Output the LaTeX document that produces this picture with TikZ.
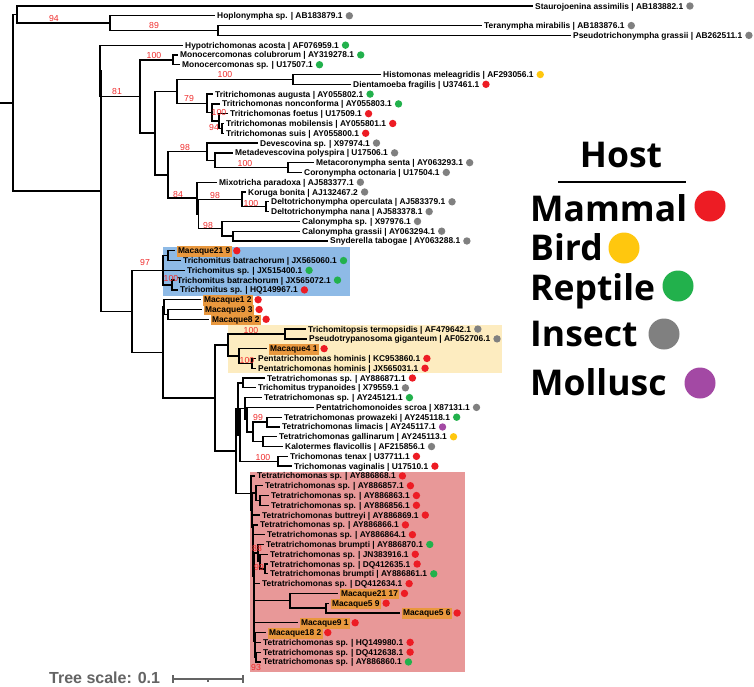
\documentclass[tikz,border=0pt]{standalone}
\usepackage{fontspec}
\setmainfont{Liberation Sans}
\newfontfamily\legfont{Open Sans}
\usetikzlibrary{calc}
\definecolor{cmam}{RGB}{237,28,36}
\definecolor{cbird}{RGB}{255,199,14}
\definecolor{crep}{RGB}{34,177,76}
\definecolor{cins}{RGB}{128,128,128}
\definecolor{cmol}{RGB}{163,73,164}
\definecolor{cbs}{RGB}{240,45,45}
\definecolor{corange}{RGB}{233,152,62}
\definecolor{cblue}{RGB}{142,186,230}
\definecolor{cyel}{RGB}{253,236,192}
\definecolor{cpink}{RGB}{232,152,152}
\definecolor{cscale}{RGB}{100,100,100}
\tikzset{
  br/.style={draw=black, line width=1.3pt},
  lab/.style={anchor=base west, inner xsep=2pt, inner ysep=0pt, yshift=-3pt,
    font=\bfseries\fontsize{8.4}{9}\selectfont},
  mlab/.style={lab, fill=corange, inner xsep=1.5pt, outer xsep=1.5pt, inner ysep=1.6pt,
    text height=6.1pt, text depth=1.4pt},
  hdot/.style={circle, inner sep=0pt, minimum size=7.4pt},
  ldot/.style={circle, inner sep=0pt, minimum size=31pt},
  bs/.style={text=cbs, font=\fontsize{8.7}{9}\selectfont, inner sep=0pt},
  leg/.style={anchor=base west, inner sep=0pt, font=\legfont\bfseries\fontsize{35.5}{36}\selectfont},
  scl/.style={draw=cscale, line width=1.3pt}
}
\newcommand\leafN[5]{\coordinate (#1) at (#2,#3);
  \node[lab] (#1l) at (#1) {#4};
  \node[hdot, fill=#5] (#1d) at ($(#1l.east |- #1)+(4.5pt,0)$) {};}
\newcommand\leafM[5]{\coordinate (#1) at (#2,#3);
  \node[mlab] (#1l) at (#1) {#4};
  \node[hdot, fill=#5] (#1d) at ($(#1l.east |- #1)+(3.5pt,0)$) {};}
\newcommand\kids[2]{\foreach \c in {#2}{\draw[br] (#1) |- (\c);}}
\begin{document}
\begin{tikzpicture}[x=1pt,y=-1pt]
\useasboundingbox (0,0) rectangle (754,686);
\fill[white] (0,0) rectangle (754,686);
% highlight boxes
\fill[cblue] (163,247) rectangle (350,296);
\fill[cyel] (228,325) rectangle (502,373);
\fill[cpink] (250,472) rectangle (465,672);
% leaves
\leafN{l1}{533}{6.00}{Staurojoenina assimilis | AB183882.1}{cins}
\leafN{l2}{215}{15.79}{Hoplonympha sp. | AB183879.1}{cins}
\leafN{l3}{482}{25.58}{Teranympha mirabilis | AB183876.1}{cins}
\leafN{l4}{571}{35.37}{Pseudotrichonympha grassii | AB262511.1}{cins}
\leafN{l5}{183}{45.16}{Hypotrichomonas acosta | AF076959.1}{crep}
\leafN{l6}{178}{54.95}{Monocercomonas colubrorum | AY319278.1}{crep}
\leafN{l7}{180}{64.74}{Monocercomonas sp. | U17507.1}{crep}
\leafN{l8}{381}{74.53}{Histomonas meleagridis | AF293056.1}{cbird}
\leafN{l9}{351}{84.32}{Dientamoeba fragilis | U37461.1}{cmam}
\leafN{l10}{213}{94.11}{Tritrichomonas augusta | AY055802.1}{crep}
\leafN{l11}{220}{103.90}{Tritrichomonas nonconforma | AY055803.1}{crep}
\leafN{l12}{228}{113.69}{Tritrichomonas foetus | U17509.1}{cmam}
\leafN{l13}{224}{123.48}{Tritrichomonas mobilensis | AY055801.1}{cmam}
\leafN{l14}{224}{133.27}{Tritrichomonas suis | AY055800.1}{cmam}
\leafN{l15}{258}{143.06}{Devescovina sp. | X97974.1}{cins}
\leafN{l16}{233}{152.85}{Metadevescovina polyspira | U17506.1}{cins}
\leafN{l17}{314}{162.64}{Metacoronympha senta | AY063293.1}{cins}
\leafN{l18}{302}{172.43}{Coronympha octonaria | U17504.1}{cins}
\leafN{l19}{217}{182.22}{Mixotricha paradoxa | AJ583377.1}{cins}
\leafN{l20}{246}{192.01}{Koruga bonita | AJ132467.2}{cins}
\leafN{l21}{269}{201.80}{Deltotrichonympha operculata | AJ583379.1}{cins}
\leafN{l22}{269}{211.59}{Deltotrichonympha nana | AJ583378.1}{cins}
\leafN{l23}{300}{221.38}{Calonympha sp. | X97976.1}{cins}
\leafN{l24}{300}{231.17}{Calonympha grassii | AY063294.1}{cins}
\leafN{l25}{328}{240.96}{Snyderella tabogae | AY063288.1}{cins}
\leafM{l26}{175}{250.75}{Macaque21 9}{cmam}
\leafN{l27}{181}{260.54}{Trichomitus batrachorum | JX565060.1}{crep}
\leafN{l28}{185}{270.33}{Trichomitus sp. | JX515400.1}{crep}
\leafN{l29}{175}{280.12}{Trichomitus batrachorum | JX565072.1}{crep}
\leafN{l30}{178}{289.91}{Trichomitus sp. | HQ149967.1}{cmam}
\leafM{l31}{201}{299.70}{Macaque1 2}{cmam}
\leafM{l32}{202}{309.49}{Macaque9 3}{cmam}
\leafM{l33}{209}{319.28}{Macaque8 2}{cmam}
\leafN{l34}{306}{329.07}{Trichomitopsis termopsidis | AF479642.1}{cins}
\leafN{l35}{307}{338.86}{Pseudotrypanosoma giganteum | AF052706.1}{cins}
\leafM{l36}{267}{348.65}{Macaque4 1}{cmam}
\leafN{l37}{256}{358.44}{Pentatrichomonas hominis | KC953860.1}{cmam}
\leafN{l38}{256}{368.23}{Pentatrichomonas hominis | JX565031.1}{cmam}
\leafN{l39}{265}{378.02}{Tetratrichomonas sp. | AY886871.1}{cmam}
\leafN{l40}{256}{387.81}{Trichomitus trypanoides | X79559.1}{cins}
\leafN{l41}{262}{397.60}{Tetratrichomonas sp. | AY245121.1}{crep}
\leafN{l42}{314}{407.39}{Pentatrichomonoides scroa | X87131.1}{cins}
\leafN{l43}{282}{417.18}{Tetratrichomonas prowazeki | AY245118.1}{crep}
\leafN{l44}{280}{426.97}{Tetratrichomonas limacis | AY245117.1}{cmol}
\leafN{l45}{277}{436.76}{Tetratrichomonas gallinarum | AY245113.1}{cbird}
\leafN{l46}{283}{446.55}{Kalotermes flavicollis | AF215856.1}{cins}
\leafN{l47}{288}{456.34}{Trichomonas tenax | U37711.1}{cmam}
\leafN{l48}{292}{466.13}{Trichomonas vaginalis | U17510.1}{cmam}
\leafN{l49}{255}{475.92}{Tetratrichomonas sp. | AY886868.1}{cmam}
\leafN{l50}{263}{485.71}{Tetratrichomonas sp. | AY886857.1}{cmam}
\leafN{l51}{269}{495.50}{Tetratrichomonas sp. | AY886863.1}{cmam}
\leafN{l52}{269}{505.29}{Tetratrichomonas sp. | AY886856.1}{cmam}
\leafN{l53}{260}{515.08}{Tetratrichomonas buttreyi | AY886869.1}{cmam}
\leafN{l54}{258}{524.87}{Tetratrichomonas sp. | AY886866.1}{cmam}
\leafN{l55}{265}{534.66}{Tetratrichomonas sp. | AY886864.1}{cmam}
\leafN{l56}{264}{544.45}{Tetratrichomonas brumpti | AY886870.1}{crep}
\leafN{l57}{268}{554.24}{Tetratrichomonas sp. | JN383916.1}{cmam}
\leafN{l58}{268}{564.03}{Tetratrichomonas sp. | DQ412635.1}{cmam}
\leafN{l59}{268}{573.82}{Tetratrichomonas brumpti | AY886861.1}{crep}
\leafN{l60}{260}{583.61}{Tetratrichomonas sp. | DQ412634.1}{cmam}
\leafM{l61}{338}{593.40}{Macaque21 17}{cmam}
\leafM{l62}{329}{603.19}{Macaque5 9}{cmam}
\leafM{l63}{400}{612.98}{Macaque5 6}{cmam}
\leafM{l64}{298}{622.77}{Macaque9 1}{cmam}
\leafM{l65}{266}{632.56}{Macaque18 2}{cmam}
\leafN{l66}{261}{642.35}{Tetratrichomonas sp. | HQ149980.1}{cmam}
\leafN{l67}{261}{652.14}{Tetratrichomonas sp. | DQ412638.1}{cmam}
\leafN{l68}{261}{661.93}{Tetratrichomonas sp. | AY886860.1}{crep}
% internal nodes
\coordinate (TP) at (218,30.48);
\coordinate (H94) at (110,23.13);
\coordinate (TOP) at (17,14.57);
\coordinate (MONO) at (173,59.85);
\coordinate (HD) at (293,79.43);
\coordinate (G) at (222,128.38);
\coordinate (F) at (219,121.03);
\coordinate (E) at (212,112.47);
\coordinate (N79) at (207,103.29);
\coordinate (X) at (177,91.36);
\coordinate (MC) at (288,167.54);
\coordinate (M) at (215,160.19);
\coordinate (D98) at (207,151.63);
\coordinate (DD) at (266,206.70);
\coordinate (KD) at (242,199.35);
\coordinate (B) at (233,236.07);
\coordinate (A) at (222,228.72);
\coordinate (K2) at (198.5,214.04);
\coordinate (K1) at (197,198.13);
\coordinate (Z) at (168,174.88);
\coordinate (Y) at (155,133.12);
\coordinate (N81) at (140,96.49);
\coordinate (N1) at (100,70.82);
\coordinate (MT) at (168,255.65);
\coordinate (BT) at (172,285.02);
\coordinate (T) at (163,270.33);
\coordinate (M93) at (168,314.39);
\coordinate (Q1) at (164,307.04);
\coordinate (TPp) at (285,333.97);
\coordinate (PP) at (252,363.34);
\coordinate (MP) at (239,355.99);
\coordinate (YC) at (228,344.98);
\coordinate (N3940) at (243,382.92);
\coordinate (PL) at (267,422.08);
\coordinate (GK) at (263,441.66);
\coordinate (A3) at (253,431.87);
\coordinate (A2) at (247,419.63);
\coordinate (A1) at (245,408.61);
\coordinate (TV) at (278,461.24);
\coordinate (B2) at (240,434.93);
\coordinate (C) at (238,408.92);
\coordinate (N5152) at (260,500.40);
\coordinate (N50) at (256,493.05);
\coordinate (N5859) at (265,568.93);
\coordinate (N57) at (260,561.58);
\coordinate (N56) at (258,553.02);
\coordinate (M559) at (326,608.08);
\coordinate (M21) at (290,600.74);
\coordinate (La) at (256,657.04);
\coordinate (Lb) at (255,649.69);
\coordinate (L1) at (255,641.13);
\coordinate (L2) at (254,631.95);
\coordinate (L3) at (254,616.34);
\coordinate (L4) at (254,599.98);
\coordinate (L5) at (254,576.50);
\coordinate (L6) at (253,555.58);
\coordinate (L7) at (253,540.22);
\coordinate (L8) at (252.5,527.65);
\coordinate (L9) at (252,510.35);
\coordinate (R0) at (251,493.14);
\coordinate (D) at (236,451.03);
\coordinate (S) at (215,398.0);
\coordinate (Q) at (163,352.52);
\coordinate (P) at (132,311.43);
\coordinate (N0) at (101,191.12);
\coordinate (root) at (13,102.85);
\coordinate (rootS) at (0,102.85);
% branches
\kids{TP}{l3,l4}
\kids{H94}{l2,TP}
\kids{TOP}{l1,H94}
\kids{MONO}{l6,l7}
\kids{HD}{l8,l9}
\kids{G}{l13,l14}
\kids{F}{l12,G}
\kids{E}{l11,F}
\kids{N79}{l10,E}
\kids{X}{HD,N79}
\kids{MC}{l17,l18}
\kids{M}{l16,MC}
\kids{D98}{l15,M}
\kids{DD}{l21,l22}
\kids{KD}{l20,DD}
\kids{B}{l24,l25}
\kids{A}{l23,B}
\kids{K2}{KD,A}
\kids{K1}{l19,K2}
\kids{Z}{D98,K1}
\kids{Y}{X,Z}
\kids{N81}{MONO,Y}
\kids{N1}{l5,N81}
\kids{MT}{l26,l27}
\kids{BT}{l29,l30}
\kids{T}{MT,l28,BT}
\kids{M93}{l32,l33}
\kids{Q1}{l31,M93}
\kids{TPp}{l34,l35}
\kids{PP}{l37,l38}
\kids{MP}{l36,PP}
\kids{YC}{TPp,MP}
\kids{N3940}{l39,l40}
\kids{PL}{l43,l44}
\kids{GK}{l45,l46}
\kids{A3}{PL,GK}
\kids{A2}{l42,A3}
\kids{A1}{l41,A2}
\kids{TV}{l47,l48}
\kids{B2}{A1,TV}
\kids{C}{N3940,B2}
\kids{N5152}{l51,l52}
\kids{N50}{l50,N5152}
\kids{N5859}{l58,l59}
\kids{N57}{l57,N5859}
\kids{N56}{l56,N57}
\kids{M559}{l62,l63}
\kids{M21}{l61,M559}
\kids{La}{l67,l68}
\kids{Lb}{l66,La}
\kids{L1}{l65,Lb}
\kids{L2}{l64,L1}
\kids{L3}{M21,L2}
\kids{L4}{l60,L3}
\kids{L5}{N56,L4}
\kids{L6}{l55,L5}
\kids{L7}{l54,L6}
\kids{L8}{l53,L7}
\kids{L9}{N50,L8}
\kids{R0}{l49,L9}
\kids{D}{C,R0}
\kids{S}{YC,D}
\kids{Q}{Q1,S}
\kids{P}{T,Q}
\kids{N0}{N1,P}
\kids{root}{TOP,N0}
\draw[br] (root) -- (rootS);
% bootstrap values
\node[bs] (b1) at (54,19) {94};
\node[bs] (b2) at (154,26) {89};
\node[bs] (b3) at (154,56) {100};
\node[bs] (b4) at (117,92) {81};
\node[bs] (b5) at (225,75) {100};
\node[bs] (b6) at (189,99) {79};
\node[bs] (b7) at (219,112) {100};
\node[bs] (b8) at (214,127) {94};
\node[bs] (b9) at (185,147) {98};
\node[bs] (b10) at (245,163) {100};
\node[bs] (b11) at (178,194) {84};
\node[bs] (b12) at (215,195) {98};
\node[bs] (b13) at (251,203) {100};
\node[bs] (b14) at (208,225) {98};
\node[bs] (b15) at (145,262) {97};
\node[bs] (b16) at (171,278) {100};
\node[bs] (b17) at (251,330) {100};
\node[bs] (b18) at (247,360) {100};
\node[bs] (b19) at (258,417) {99};
\node[bs] (b20) at (263,457) {100};
\node[bs] (b21) at (257,548) {88};
\node[bs] (b22) at (259,567) {99};
\node[bs] (b23) at (256,667) {93};
% legend
\node[leg, anchor=base] (host) at (621,167.3) {Host};
\coordinate (hl1) at (558,182);
\coordinate (hl2) at (686,182);
\draw[line width=2.2pt] (hl1) -- (hl2);
\node[leg] (gmam) at (530,221.7) {Mammal};
\node[ldot, fill=cmam] (dmam) at (710,206) {};
\node[leg] (gbird) at (530,260.7) {Bird};
\node[ldot, fill=cbird] (dbird) at (624,248) {};
\node[leg] (grep) at (530,300) {Reptile};
\node[ldot, fill=crep] (drep) at (678,286) {};
\node[leg] (gins) at (530,346.7) {Insect};
\node[ldot, fill=cins] (dins) at (664,334) {};
\node[leg] (gmol) at (530,395) {Mollusc};
\node[ldot, fill=cmol] (dmol) at (700,383) {};
% tree scale
\node[anchor=west, inner sep=0pt, text=cscale, font=\bfseries\fontsize{16}{18}\selectfont] (tsl) at (49,678) {Tree scale: 0.1};
\coordinate (sb1) at (173,679);
\coordinate (sb2) at (243,679);
\coordinate (sbm) at (208,679);
\draw[scl] (sb1) -- (sb2);
\draw[scl] ([yshift=4pt]sb1) -- ([yshift=-4pt]sb1);
\draw[scl] ([yshift=4pt]sb2) -- ([yshift=-4pt]sb2);
\draw[scl] (sbm) -- ([yshift=-2.5pt]sbm);
\end{tikzpicture}
\end{document}
